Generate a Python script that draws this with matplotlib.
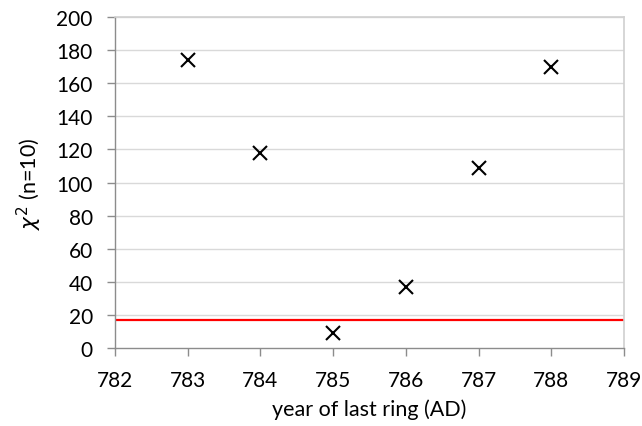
import matplotlib
matplotlib.use("Agg")
import matplotlib.pyplot as plt

years = [783, 784, 785, 786, 787, 788]
chi2 = [174, 118, 9, 37, 109, 170]
threshold = 16.9
xticks = [782, 783, 784, 785, 786, 787, 788, 789]
yticks = [0, 20, 40, 60, 80, 100, 120, 140, 160, 180, 200]

plt.rcParams['font.family'] = ['Lato', 'DejaVu Sans']

fig = plt.figure(figsize=(6.42, 4.27), dpi=100)
ax = fig.add_axes([115/642, 1-349/427, (624-115)/642, (349-18)/427])

for y in yticks[1:]:
    ax.axhline(y, color='#d9d9d9', lw=1.0, zorder=0)

ax.axhline(threshold, color='#ff0000', lw=1.6, zorder=2)
ax.plot(years, chi2, linestyle='none', marker='x', color='black',
        markersize=10.5, markeredgewidth=1.5, zorder=3)

ax.set_xlim(782, 789)
ax.set_ylim(0, 200)
ax.set_xticks(xticks)
ax.set_yticks(yticks)
ax.tick_params(axis='both', direction='out', length=6, width=1.0,
               color='#8c8c8c', labelsize=15, labelcolor='black')
ax.tick_params(axis='y', pad=10)
ax.tick_params(axis='x', pad=10)

for side in ['left', 'bottom']:
    ax.spines[side].set_color('#8c8c8c')
    ax.spines[side].set_linewidth(1.0)
for side in ['right', 'top']:
    ax.spines[side].set_color('#d0d0d0')
    ax.spines[side].set_linewidth(1.2)

ax.set_xlabel('year of last ring (AD)', fontsize=15.5, labelpad=6)
ax.set_ylabel(r'$\chi^2$ (n=10)', fontsize=15.5, labelpad=9)

fig.savefig('out.png', dpi=100)
